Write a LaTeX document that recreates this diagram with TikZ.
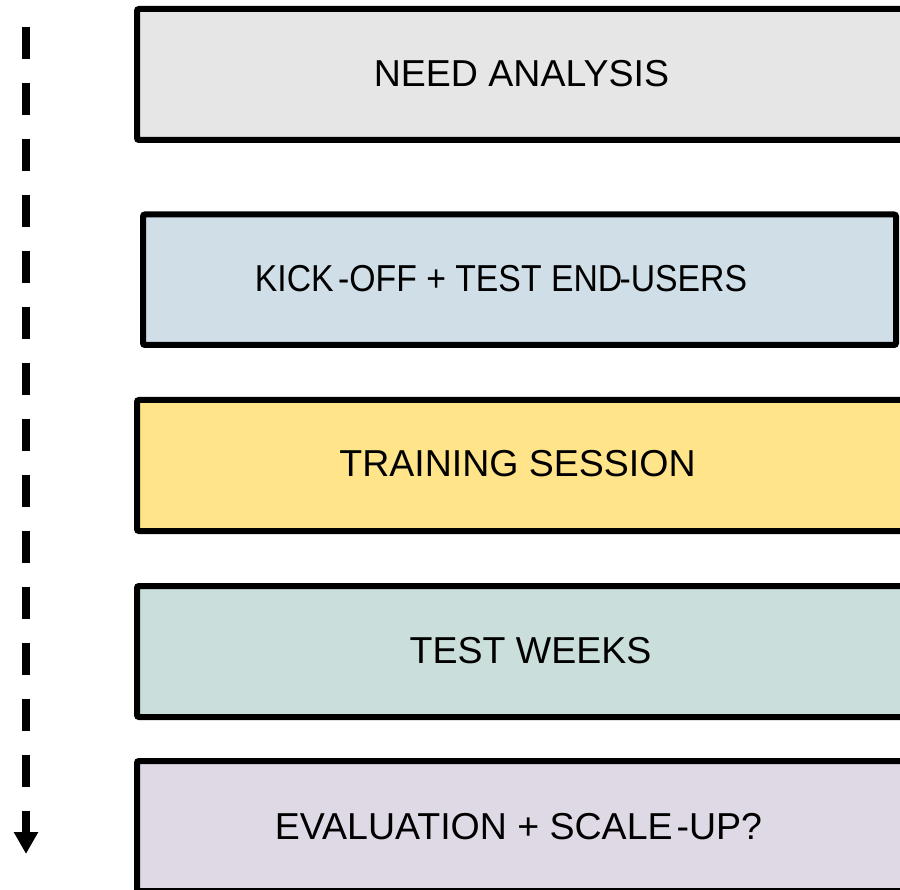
\documentclass[tikz,border=0pt]{standalone}
\usepackage{graphicx}
\usepackage{fontspec}
\setmainfont{Liberation Sans}
\usetikzlibrary{arrows.meta}
\definecolor{cgray}{HTML}{E6E6E6}
\definecolor{cblue}{HTML}{D0DEE7}
\definecolor{cyellow}{HTML}{FFE489}
\definecolor{cteal}{HTML}{CADEDB}
\definecolor{clav}{HTML}{DED9E5}
\tikzset{
  stagebox/.style={draw=black, line width=6pt, rounded corners=2pt, rectangle, inner sep=0pt, outer sep=0pt, anchor=north west},
  stagelbl/.style={anchor=base, inner sep=0pt, font=\fontsize{37.5pt}{45pt}\selectfont, text=black},
  flowarrow/.style={line width=8pt, dash pattern=on 32pt off 24pt, -{Triangle[length=22pt,width=23pt]}}
}
\begin{document}
\begin{tikzpicture}[x=1pt,y=1pt]
\useasboundingbox (0,0) rectangle (900,-890);
\clip (0,0) rectangle (900,-890);
\node[stagebox, fill=cgray, minimum width=780pt, minimum height=131pt] (b1) at (137,-9) {};
\node[stagebox, fill=cblue, minimum width=753pt, minimum height=130.5pt] (b2) at (143,-214.5) {};
\node[stagebox, fill=cyellow, minimum width=780pt, minimum height=131pt] (b3) at (137,-400) {};
\node[stagebox, fill=cteal, minimum width=780pt, minimum height=131pt] (b4) at (137,-586) {};
\node[stagebox, fill=clav, minimum width=780pt, minimum height=130pt] (b5) at (137,-761) {};
\node[stagelbl] (t1) at (521.5,-87) {NEED ANALYSIS};
\node[stagelbl] (t2) at (501,-292) {\scalebox{0.9}[1]{KICK\hspace{5pt}-OFF + TEST END\hspace{-3pt}-USERS}};
\node[stagelbl] (t3) at (517.5,-476.5) {TRAINING SESSION};
\node[stagelbl] (t4) at (530.5,-663) {TEST WEEKS};
\node[stagelbl] (t5) at (518.5,-839) {EVALUATION + SCALE\hspace{4pt}-UP?};
\coordinate (atop) at (26,-27);
\coordinate (abot) at (26,-854);
\draw[flowarrow] (atop) -- (abot);
\end{tikzpicture}
\end{document}
